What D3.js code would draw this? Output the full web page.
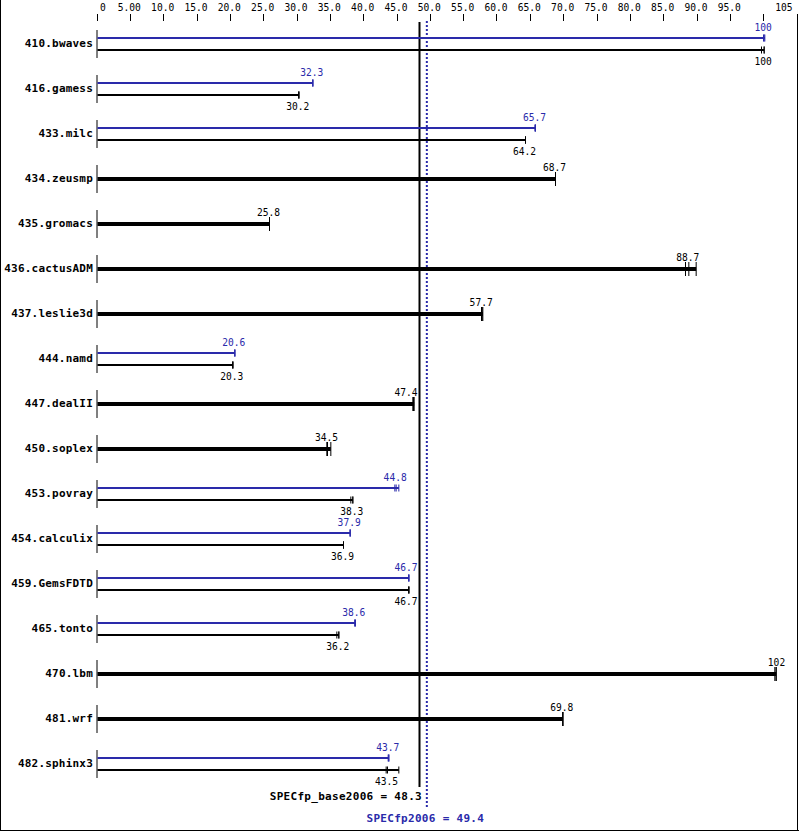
<!DOCTYPE html>
<html>
<head>
<meta charset="utf-8">
<script src="https://cdn.jsdelivr.net/npm/d3@7"></script>
<style>
  html, body { margin: 0; padding: 0; background: #fff; }
  svg { display: block; }
</style>
</head>
<body>
<script>
// ---- data ----
const benchmarks = ["410.bwaves","416.gamess","433.milc","434.zeusmp","435.gromacs","436.cactusADM",
  "437.leslie3d","444.namd","447.dealII","450.soplex","453.povray","454.calculix","459.GemsFDTD",
  "465.tonto","470.lbm","481.wrf","482.sphinx3"];
const baseValues = [100, 30.2, 64.2, 68.7, 25.8, 88.7, 57.7, 20.3, 47.4, 34.5, 38.3, 36.9, 46.7, 36.2, 102, 69.8, 43.5];
const peakValues = [100, 32.3, 65.7, null, null, null, null, 20.6, null, null, 44.8, 37.9, 46.7, 38.6, null, null, 43.7];
const baseRuns = [
  [99.6, 100, 100], [30.2, 30.2, 30.2], [64.2, 64.2, 64.2], [68.7, 68.7, 68.7], [25.8, 25.8, 25.8],
  [88.2, 88.7, 89.8], [57.6, 57.7, 57.8], [20.3, 20.3, 20.3], [47.3, 47.4, 47.5], [34.4, 34.5, 35.0],
  [38.0, 38.3, 38.3], [36.9, 36.9, 36.9], [46.7, 46.7, 46.7], [35.9, 36.2, 36.2], [101.6, 101.8, 101.8],
  [69.8, 69.8, 69.8], [43.3, 43.5, 45.2]];
const peakRuns = [
  [99.9, 100, 100.1], [32.3, 32.3, 32.3], [65.6, 65.7, 65.7], null, null, null, null, [20.6, 20.6, 20.6],
  null, null, [44.6, 44.8, 45.2], [37.9, 37.9, 37.9], [46.7, 46.7, 46.7], [38.6, 38.6, 38.7], null, null,
  [43.6, 43.7, 43.7]];
const tickValues = [0,5,10,15,20,25,30,35,40,45,50,55,60,65,70,75,80,85,90,95,100,105];
const tickLabels = ["0","5.00","10.0","15.0","20.0","25.0","30.0","35.0","40.0","45.0","50.0","55.0",
  "60.0","65.0","70.0","75.0","80.0","85.0","90.0","95.0","","105"];
const baseMean = 48.3, peakMean = 49.4;
const baseMeanLabel = "SPECfp_base2006 = 48.3";
const peakMeanLabel = "SPECfp2006 = 49.4";

// ---- layout ----
const W = 799, H = 831;
const BLUE = "#2a2aaa", BLACK = "#000";
const numFont = "'DejaVu Sans Mono', monospace";
const x = d3.scaleLinear().domain([0, 105]).range([97.5, 797.5]);
const y = d3.scaleLinear().domain([0, benchmarks.length - 1]).range([44, 764]);
const fmt = v => v >= 100 ? d3.format(".0f")(v) : d3.format(".1f")(v);

const svg = d3.select("body").append("svg").attr("width", W).attr("height", H);
svg.append("rect").attr("width", W).attr("height", H).attr("fill", "#fff");

// frame (left, bottom, right)
svg.append("line").attr("x1", 0.5).attr("x2", 0.5).attr("y1", 0).attr("y2", H).attr("stroke", BLACK);
svg.append("line").attr("x1", 0).attr("x2", W).attr("y1", 830.5).attr("y2", 830.5).attr("stroke", BLACK);
svg.append("line").attr("x1", 797.5).attr("x2", 797.5).attr("y1", 14).attr("y2", H).attr("stroke", BLACK);

// top axis ticks and labels
const axis = svg.append("g");
axis.selectAll("line.tick").data(tickValues).join("line")
  .attr("x1", d => Math.round(x(d)) - 0.5).attr("x2", d => Math.round(x(d)) - 0.5)
  .attr("y1", 14).attr("y2", 21).attr("stroke", BLACK).attr("stroke-width", 1);
axis.selectAll("text").data(tickValues).join("text")
  .attr("x", (d, i) => i === 0 ? x(d) + 2.5 : (i === tickValues.length - 1 ? x(d) - 5 : x(d) - 1.5))
  .attr("y", 10.5)
  .attr("text-anchor", (d, i) => i === 0 ? "start" : (i === tickValues.length - 1 ? "end" : "middle"))
  .attr("font-family", numFont).attr("font-size", "9.6px").attr("fill", BLACK)
  .text((d, i) => tickLabels[i]);

// mean lines
svg.append("line").attr("x1", x(baseMean)).attr("x2", x(baseMean)).attr("y1", 22).attr("y2", 787)
  .attr("stroke", BLACK).attr("stroke-width", 2);
svg.append("line").attr("x1", x(peakMean)).attr("x2", x(peakMean)).attr("y1", 21).attr("y2", 807)
  .attr("stroke", BLUE).attr("stroke-width", 2).attr("stroke-dasharray", "2,2");

const lineLeft = x(baseMean) - 1, lineRight = x(peakMean) + 1;

// rows
const rows = svg.selectAll("g.row").data(benchmarks).join("g").attr("class", "row");
rows.each(function(name, i) {
  const g = d3.select(this);
  const c = y(i);
  g.append("line").attr("x1", x(0) - 0.5).attr("x2", x(0) - 0.5).attr("y1", c - 14).attr("y2", c + 14)
    .attr("stroke", BLACK).attr("stroke-width", 1);
  g.append("text").attr("x", 93).attr("y", c + 3.2).attr("text-anchor", "end")
    .attr("font-family", numFont).attr("font-weight", "bold").attr("font-size", "11px")
    .attr("letter-spacing", "0.2px").attr("fill", BLACK).text(name);

  const drawBar = (runs, value, yy, color, width, capHalf, labelDy) => {
    const xmax = x(d3.max(runs));
    g.append("line").attr("x1", x(0)).attr("x2", xmax).attr("y1", yy).attr("y2", yy)
      .attr("stroke", color).attr("stroke-width", width);
    g.selectAll(null).data(runs).enter().append("line")
      .attr("x1", d => x(d)).attr("x2", d => x(d))
      .attr("y1", yy - capHalf).attr("y2", yy + capHalf)
      .attr("stroke", color).attr("stroke-width", 1);
    const t = g.append("text").attr("x", x(value) - 1).attr("y", yy + labelDy).attr("text-anchor", "middle")
      .attr("font-family", numFont).attr("font-size", "9.6px").attr("fill", color).text(fmt(value));
    // keep value labels clear of the mean lines
    const w = t.node().getComputedTextLength();
    const cx = x(value) - 1;
    if (cx + w / 2 > lineLeft && cx - w / 2 < lineRight) {
      t.attr("text-anchor", "end").attr("x", lineLeft - 1);
    }
  };

  if (peakValues[i] !== null) {
    drawBar(peakRuns[i], peakValues[i], c - 6, BLUE, 2, 3.5, -7.5);
    drawBar(baseRuns[i], baseValues[i], c + 6, BLACK, 2, 3.5, 14.5);
  } else {
    drawBar(baseRuns[i], baseValues[i], c, BLACK, 4, 7, -8.5);
  }
});

// mean labels
svg.append("text").attr("x", x(baseMean) + 2.5).attr("y", 799.5).attr("text-anchor", "end")
  .attr("font-family", numFont).attr("font-weight", "bold").attr("font-size", "11px")
  .attr("letter-spacing", "0.3px").attr("fill", BLACK).text(baseMeanLabel);
svg.append("text").attr("x", x(peakMean) - 1.5).attr("y", 821.5).attr("text-anchor", "middle")
  .attr("font-family", numFont).attr("font-weight", "bold").attr("font-size", "11px")
  .attr("letter-spacing", "0.3px").attr("fill", BLUE).text(peakMeanLabel);
</script>
</body>
</html>
